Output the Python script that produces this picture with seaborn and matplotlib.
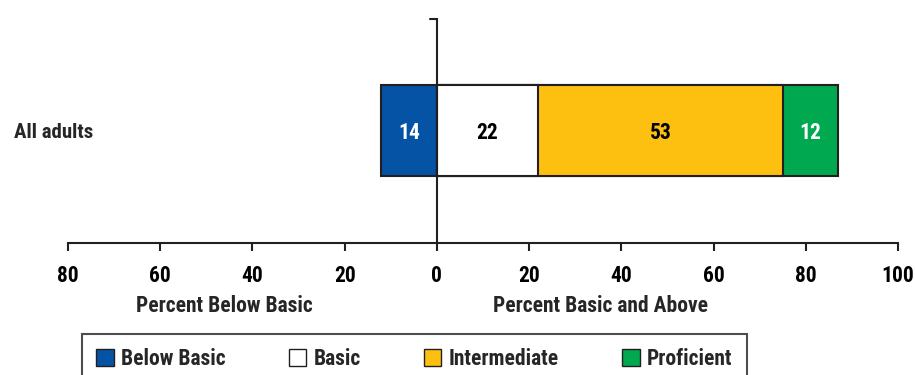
import matplotlib.pyplot as plt
import matplotlib.transforms as mtransforms
from matplotlib.patches import Patch
import pandas as pd
import seaborn as sns
import numpy as np

# data
categoria = ["All adults"]
niveles = ["Below Basic", "Basic", "Intermediate", "Proficient"]
largo_barras = [12.2, 22, 53, 12]      # segment lengths as drawn
etiquetas = ["14", "22", "53", "12"]    # numbers printed in the bars
colores = ["#0553a4", "#ffffff", "#fdc010", "#00a84f"]
color_texto = ["white", "black", "black", "white"]
ticks_x = [-80, -60, -40, -20, 0, 20, 40, 60, 80, 100]

OSCURO = "#231f20"
TAM = 15.5

sns.set_style("white")
plt.rcParams['font.family'] = ['Roboto Condensed', 'DejaVu Sans']
plt.rcParams['font.weight'] = 'bold'
plt.rcParams['font.size'] = TAM

fig = plt.figure(figsize=(9.15, 3.75), dpi=100)
ax = fig.add_axes([68 / 915, 132 / 375, 830 / 915, 225 / 375])

# negative side (below basic)
df_neg = pd.DataFrame({"cat": categoria, "valor": [-largo_barras[0]]})
sns.barplot(data=df_neg, x="valor", y="cat", orient="h", color=colores[0],
            edgecolor=OSCURO, linewidth=1.5, width=0.8, saturation=1, ax=ax)

# positive side, cumulative bars drawn from the longest to the shortest
acumulado = np.cumsum(largo_barras[1:])
for i in range(len(acumulado) - 1, -1, -1):
    df_pos = pd.DataFrame({"cat": categoria, "valor": [acumulado[i]]})
    sns.barplot(data=df_pos, x="valor", y="cat", orient="h", color=colores[i + 1],
                edgecolor=OSCURO, linewidth=1.5, width=0.8, saturation=1, ax=ax)

# numbers in the middle of each segment
inicios = np.concatenate([[-largo_barras[0]], [0], acumulado[:-1]])
centros = inicios + np.array(largo_barras) / 2
for c, txt, col in zip(centros, etiquetas, color_texto):
    ax.text(c, 0.02, txt, ha="center", va="center", color=col,
            fontsize=TAM, fontweight="bold")

ax.set_xlim(-80, 100)
ax.set_ylim(0.99, -0.99)
ax.set_xticks(ticks_x)
ax.set_xticklabels([str(abs(t)) for t in ticks_x])
ax.set_yticks([])
ax.set(xlabel=None, ylabel=None)

for s in ["top", "right", "left"]:
    ax.spines[s].set_visible(False)
ax.spines["bottom"].set_color(OSCURO)
ax.spines["bottom"].set_linewidth(1.5)
ax.tick_params(axis="x", direction="out", length=6, width=1.5, color=OSCURO,
               pad=10, labelsize=TAM, labelcolor="black", bottom=True)

# vertical zero line with small tick at the top
ax.axvline(0, color=OSCURO, linewidth=1.5, zorder=5)
trans = mtransforms.blended_transform_factory(ax.transData, ax.transAxes)
ax.plot([-1.4, 0], [0.995, 0.995], color=OSCURO, linewidth=1.5,
        transform=trans, clip_on=False)

# axis titles under each half
ax.text(-46, -0.28, "Percent Below Basic", transform=trans, ha="center",
        va="center", fontsize=TAM, fontweight="bold")
ax.text(35.4, -0.28, "Percent Basic and Above", transform=trans, ha="center",
        va="center", fontsize=TAM, fontweight="bold")

# category label
trans_y = mtransforms.blended_transform_factory(ax.transAxes, ax.transData)
ax.text(-0.065, 0.02, categoria[0], transform=trans_y, ha="left", va="center",
        fontsize=15, fontweight="bold")

handles = [Patch(facecolor=c, edgecolor=OSCURO, linewidth=1.0, label=n)
           for c, n in zip(colores, niveles)]
leg = fig.legend(handles=handles, loc="upper center", bbox_to_anchor=(0.453, 0.109),
                 ncol=4, frameon=True, fancybox=False, handlelength=0.8,
                 handleheight=0.8, handletextpad=0.35, columnspacing=2.94,
                 borderpad=0.65, borderaxespad=0, prop={"size": TAM, "weight": "bold"})
leg.get_frame().set_edgecolor(OSCURO)
leg.get_frame().set_linewidth(1.5)

plt.savefig("out.png", dpi=100)
plt.close()
